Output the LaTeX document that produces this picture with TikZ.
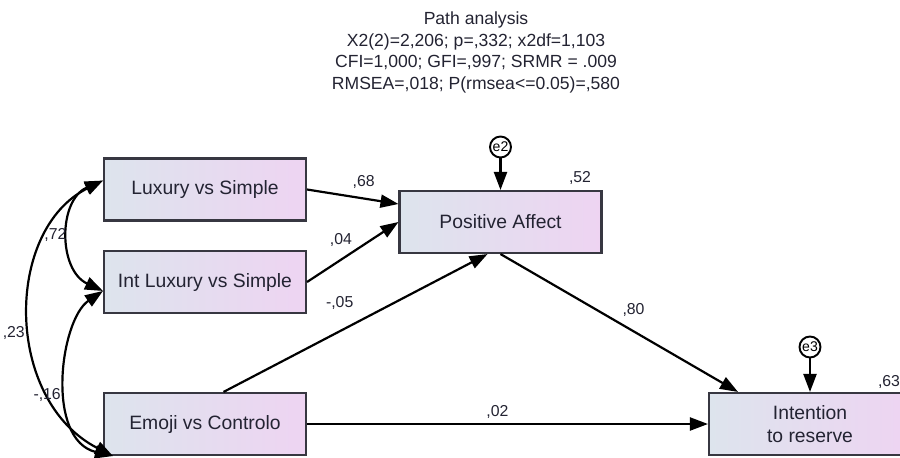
\documentclass[tikz,border=0pt]{standalone}
\usepackage{fontspec}
\setmainfont{Liberation Sans}
\usetikzlibrary{arrows.meta}

\definecolor{boxleft}{RGB}{221,228,237}
\definecolor{boxright}{RGB}{238,212,242}
\definecolor{boxline}{RGB}{55,55,65}
\definecolor{boxtext}{RGB}{35,35,50}

\begin{document}
\begin{tikzpicture}[x=0.02cm,y=-0.02cm,
    >={Triangle[length=0.36cm,width=0.26cm]},
    lbl/.style={font=\fontsize{9}{10}\selectfont,inner sep=1pt,text=boxtext},
    reg/.style={draw=black,line width=1.25pt,->},
    cov/.style={draw=black,line width=1.25pt,<->}]
\useasboundingbox[fill=white] (0,0) rectangle (900,457);

\node[font=\fontsize{10}{12.2}\selectfont,align=center,text=boxtext] (title) at (476,52.5)
    {Path analysis\\X2(2)=2,206; p=,332; x2df=1,103\\CFI=1,000; GFI=,997; SRMR = .009\\RMSEA=,018; P(rmsea<=0.05)=,580};

\begin{scope}[every node/.style={rectangle,draw=boxline,line width=1.2pt,
        left color=boxleft,right color=boxright,text=boxtext,
        minimum width=4.04cm,minimum height=1.24cm,inner sep=0pt,
        font=\fontsize{11}{13}\selectfont,align=center}]
    \node (lux)    at (205,189.5) {Luxury vs Simple};
    \node (intlux) at (205,282)   {Int Luxury vs Simple};
    \node (emoji)  at (205,424)   {Emoji vs Controlo};
    \node (posaff) at (500.5,222) {Positive Affect};
    \node (intent) at (810,424)   {Intention\\to reserve};
\end{scope}

\begin{scope}[every node/.style={circle,draw=black,line width=1.1pt,fill=white,
        minimum size=0.42cm,inner sep=0pt,font=\fontsize{8}{8}\selectfont}]
    \node (e2) at (500.5,147) {e2};
    \node (e3) at (810,347)   {e3};
\end{scope}

% squared multiple correlations
\node[lbl] (r2pos) at (580,178) {,52};
\node[lbl] (r2int) at (889,382) {,63};

% regressions
\draw[reg] (lux.east) -- node[lbl,pos=0.62,above=4pt] (lxpa) {,68} (posaff.170);
\draw[reg] (intlux.east) -- node[lbl,pos=0.37,above=6pt] (ilpa) {,04} (posaff.west);
\draw[reg] (emoji.60) -- node[lbl,pos=0.44,above=11pt] (empa) {-,05} (posaff.248);
\draw[reg] (posaff.south) -- node[lbl,pos=0.56,above=7pt] (pain) {,80} (intent.156);
\draw[reg] (emoji.east) -- node[lbl,pos=0.475,above=1.5pt] (emin) {,02} (intent.west);
\draw[reg] (e2) -- (posaff);
\draw[reg] (e3) -- (intent);

% covariances
\coordinate (ecov) at ([xshift=0.2cm]emoji.south west);
\draw[cov] (lux.175) .. controls (58,200) and (58,270) .. (intlux.185)
    node[lbl,pos=0.5,left] (c72) {,72};
\draw[cov] (lux.175) .. controls (4,230) and (4,400) .. (ecov)
    node[lbl,pos=0.55,left=2pt] (c23) {,23};
\draw[cov] (intlux.185) .. controls (60,320) and (45,440) .. (ecov)
    node[lbl,pos=0.58,left=2pt] (c16) {-,16};
\end{tikzpicture}
\end{document}
